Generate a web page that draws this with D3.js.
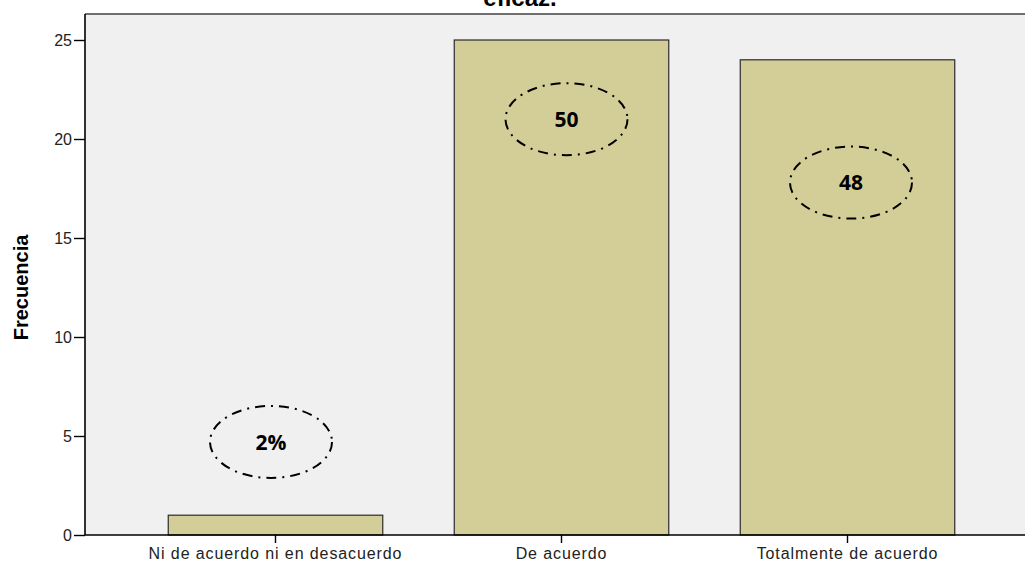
<!DOCTYPE html>
<html>
<head>
<meta charset="utf-8">
<script src="https://cdn.jsdelivr.net/npm/d3@7"></script>
<style>
  html, body { margin: 0; padding: 0; background: #ffffff; }
  svg { display: block; }
</style>
</head>
<body>
<svg id="chart" width="1025" height="566"></svg>
<script>
// Response categories and their frequencies
const categories = ["Ni de acuerdo ni en desacuerdo", "De acuerdo", "Totalmente de acuerdo"];
const frequencies = [1, 25, 24];
const yTicks = [0, 5, 10, 15, 20, 25];

// Circled annotations drawn over each bar (text and the frequency level where it sits)
const noteTexts = ["2%", "50", "48"];
const noteLevels = [4.7, 21, 17.8];

const svg = d3.select("#chart");
const plot = { left: 85, right: 1040, top: 14, bottom: 535 };

const x = d3.scaleBand()
  .domain(categories)
  .range([132.5, 990.5])
  .paddingInner(0.25)
  .paddingOuter(0.125);

const y = d3.scaleLinear()
  .domain([0, 25])
  .range([plot.bottom, 40]);

// Plot background and frame
svg.append("rect")
  .attr("x", plot.left).attr("y", plot.top)
  .attr("width", plot.right - plot.left).attr("height", plot.bottom - plot.top)
  .attr("fill", "#f0f0f0");
svg.append("line")
  .attr("x1", plot.left).attr("x2", plot.right)
  .attr("y1", plot.top).attr("y2", plot.top)
  .attr("stroke", "#6e6e6e").attr("stroke-width", 2);

// Title (partly above the visible area)
svg.append("text")
  .attr("x", 520).attr("y", 6)
  .attr("text-anchor", "middle")
  .attr("font-family", "Liberation Sans, Arial, sans-serif")
  .attr("font-weight", "bold")
  .attr("font-size", 24)
  .attr("fill", "#000")
  .text("eficaz.");

// Bars
svg.selectAll("rect.bar")
  .data(frequencies)
  .enter().append("rect")
  .attr("class", "bar")
  .attr("x", (d, i) => x(categories[i]))
  .attr("y", d => y(d))
  .attr("width", x.bandwidth())
  .attr("height", d => y(0) - y(d))
  .attr("fill", "#d3ce97")
  .attr("stroke", "#2b2b2b")
  .attr("stroke-width", 1.2);

const tickFont = g => g
  .attr("font-family", "Liberation Sans, Arial, sans-serif")
  .attr("font-size", 16)
  .attr("fill", "#222");

// Y axis
const yAxis = d3.axisLeft(y).tickValues(yTicks).tickSize(11).tickPadding(2).tickFormat(d3.format("d"));
const gy = svg.append("g").attr("transform", `translate(${plot.left},0)`).call(yAxis);
gy.select(".domain").attr("d", `M0,${plot.top}V${plot.bottom}`).attr("stroke", "#000").attr("stroke-width", 1.6);
gy.selectAll(".tick line").attr("stroke", "#000").attr("stroke-width", 1.4);
gy.selectAll(".tick text").call(tickFont);

// X axis
const xAxis = d3.axisBottom(x).tickSize(8).tickPadding(5);
const gx = svg.append("g").attr("transform", `translate(0,${plot.bottom})`).call(xAxis);
gx.select(".domain").attr("d", `M${plot.left},0H${plot.right}`).attr("stroke", "#000").attr("stroke-width", 1.6);
gx.selectAll(".tick line").attr("stroke", "#000").attr("stroke-width", 1.4);
gx.selectAll(".tick text").call(tickFont).attr("letter-spacing", "0.9px");

// Y axis title
svg.append("text")
  .attr("transform", `translate(28,${(40 + plot.bottom) / 2}) rotate(-90)`)
  .attr("text-anchor", "middle")
  .attr("font-family", "Liberation Sans, Arial, sans-serif")
  .attr("font-weight", "bold")
  .attr("font-size", 20)
  .attr("fill", "#000")
  .text("Frecuencia");

// Circled annotations
const noteOffsets = [-4.5, 5, 3.5];
const notes = svg.selectAll("g.note")
  .data(noteTexts)
  .enter().append("g")
  .attr("class", "note")
  .attr("transform", (d, i) => `translate(${x(categories[i]) + x.bandwidth() / 2 + noteOffsets[i]},${y(noteLevels[i])})`);
notes.append("ellipse")
  .attr("rx", 61).attr("ry", 36)
  .attr("fill", "none")
  .attr("stroke", "#000")
  .attr("stroke-width", 2)
  .attr("stroke-dasharray", "10,6,2,6");
notes.append("text")
  .attr("text-anchor", "middle")
  .attr("dy", "0.36em")
  .attr("font-family", "Open Sans, Noto Sans, sans-serif")
  .attr("font-weight", "bold")
  .attr("font-size", 21)
  .attr("fill", "#000")
  .text(d => d);
</script>
</body>
</html>
